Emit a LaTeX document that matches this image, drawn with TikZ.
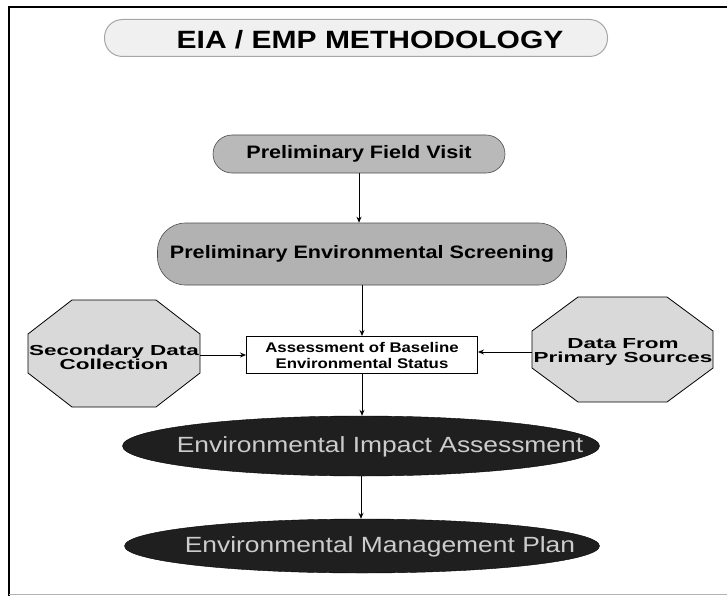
\documentclass[tikz,border=0pt]{standalone}
\usepackage{fontspec}
\setmainfont{Liberation Sans}
\newfontfamily\widesans[FakeStretch=1.2]{Liberation Sans}
\newfontfamily\widersans[FakeStretch=1.55]{Liberation Sans}
\usetikzlibrary{arrows.meta,shapes.geometric}
\begin{document}
\begin{tikzpicture}[x=1pt,y=-1pt,
  titlepill/.style={draw=gray!70, line width=1pt, fill=gray!12, rounded corners=18pt,
     minimum width=503pt, minimum height=37pt, inner sep=0pt},
  titletext/.style={inner sep=0pt, font=\widesans\bfseries\fontsize{25}{30}\selectfont},
  greypill/.style={draw=gray!60!black, line width=0.6pt, inner sep=0pt,
     font=\widesans\bfseries\fontsize{18}{21}\selectfont},
  octo/.style={inner sep=0pt, align=center,
     font=\widersans\bfseries\fontsize{14.5}{14}\selectfont},
  statusbox/.style={draw=black, line width=1pt, fill=white, align=center, inner sep=0pt,
     minimum width=231pt, minimum height=37pt,
     font=\widesans\bfseries\fontsize{14}{16}\selectfont},
  darkellipse/.style={ellipse, fill=black!88, draw=black, inner sep=0pt},
  ellipsetext/.style={inner sep=0pt, text=white!80!black,
     font=\widesans\fontsize{22}{24}\selectfont},
  arr/.style={draw=black, line width=0.8pt, -{Stealth[length=6pt,width=5pt]}}
]
\useasboundingbox (0,0) rectangle (727,596);
% frame
\draw[line width=2.5pt] (9,596) -- (9,7) -- (727,7);
\draw[line width=1pt, gray!60] (9,594) -- (727,594);

% title
\node[titlepill] (title) at (356,38) {};
\node[titletext] (titlet) at (370,40) {EIA / EMP METHODOLOGY};

% steps
\node[greypill, fill=gray!55, rounded corners=19pt, minimum width=292pt, minimum height=38pt]
  (fv) at (359,154) {Preliminary Field Visit};
\node[greypill, fill=gray!60, rounded corners=28pt, minimum width=409pt, minimum height=62pt]
  (scr) at (362,254) {Preliminary Environmental Screening};
\node[statusbox] (box) at (362,355) {Assessment of Baseline\\Environmental Status};

% octagons
\draw[draw=black, line width=0.8pt, fill=gray!30]
  (28,334) -- (72,300) -- (156,300) -- (200,334) -- (200,373) -- (156,407) -- (72,407) -- (28,373) -- cycle;
\node[octo] (sec) at (114,357) {Secondary Data\\Collection};
\draw[draw=black, line width=0.8pt, fill=gray!30]
  (532,331) -- (578,297) -- (667,297) -- (713,331) -- (713,368) -- (667,402) -- (578,402) -- (532,368) -- cycle;
\node[octo] (pri) at (623,352) {Data From\\Primary Sources};
\coordinate (secE) at (200,355);
\coordinate (priW) at (532,352);

% ellipses
\node[darkellipse, minimum width=477pt, minimum height=60pt] (eia) at (361,446) {};
\node[ellipsetext] (eiat) at (380,447) {Environmental Impact Assessment};
\node[darkellipse, minimum width=475pt, minimum height=54pt] (emp) at (362,546) {};
\node[ellipsetext] (empt) at (380,547) {Environmental Management Plan};

% connectors
\draw[arr] (fv.south) -- (fv.south |- scr.north);
\draw[arr] (scr.south) -- (box.north);
\draw[arr] (secE) -- (secE -| box.west);
\draw[arr] (priW) -- (priW -| box.east);
\draw[arr] (box.south) -- (box.south |- eia.north);
\draw[arr] (eia.south) -- (eia.south |- emp.north);
\end{tikzpicture}
\end{document}
